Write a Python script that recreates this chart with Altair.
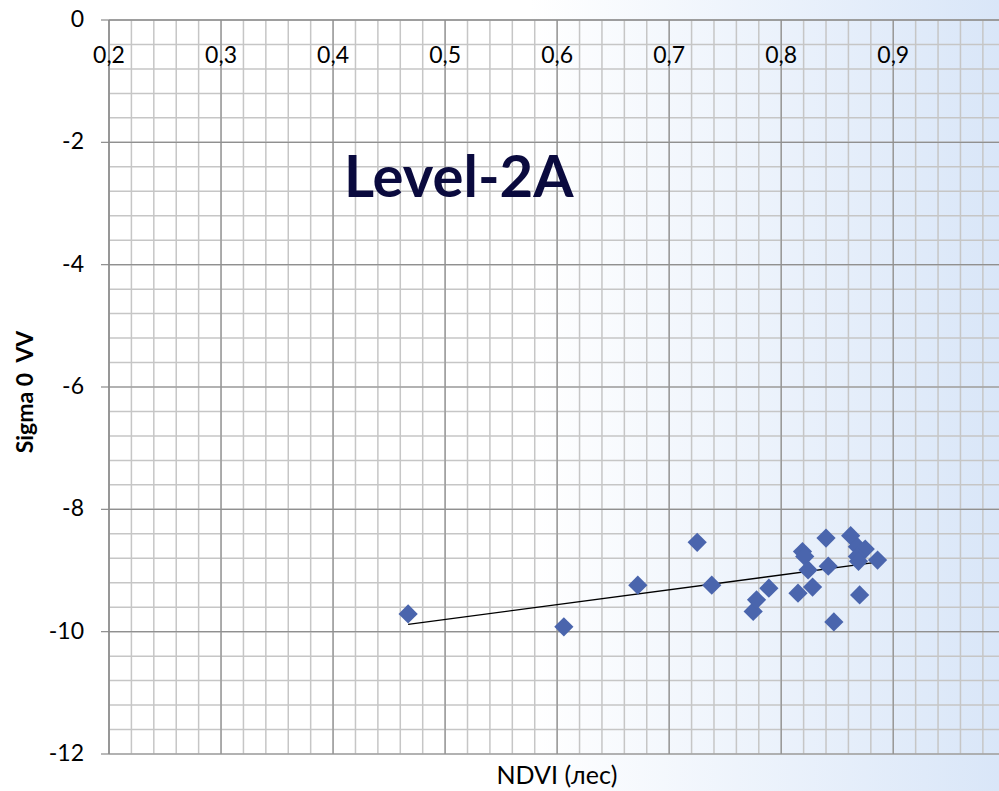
import altair as alt
import pandas as pd

# NDVI of forest plots vs. backscatter Sigma0 (VV), Level-2A
ndvi = [0.467, 0.606, 0.672, 0.725, 0.738, 0.775, 0.778, 0.789, 0.815, 0.828,
        0.819, 0.821, 0.824, 0.840, 0.842, 0.847, 0.862, 0.868, 0.875, 0.868,
        0.869, 0.870, 0.886]
sigma0_vv = [-9.71, -9.92, -9.24, -8.54, -9.24, -9.67, -9.48, -9.29, -9.37, -9.27,
             -8.69, -8.77, -8.99, -8.47, -8.93, -9.84, -8.43, -8.61, -8.65, -8.77,
             -8.85, -9.40, -8.83]

x_major = [0.2, 0.3, 0.4, 0.5, 0.6, 0.7, 0.8, 0.9]
x_labels = ["0,2", "0,3", "0,4", "0,5", "0,6", "0,7", "0,8", "0,9"]
y_major = [-12, -10, -8, -6, -4, -2, 0]
y_labels = ["-12", "-10", "-8", "-6", "-4", "-2", "0"]
x_minor = [round(0.2 + 0.02 * i, 2) for i in range(40)]
y_minor = [round(-12 + 0.4 * i, 1) for i in range(31)]

W, H = 890, 734
PAD_L, PAD_T, PAD_B = 109, 20, 37
FONT = "Lato"
AXIS_GRAY = "#8a8a8a"

points = pd.DataFrame({"ndvi": ndvi, "sigma": sigma0_vv})
xs = alt.Scale(domain=[0.2, 0.9944], nice=False, zero=False)
ys = alt.Scale(domain=[-12, 0], nice=False, zero=False)
one = pd.DataFrame({"k": [0]})

# page background: white on the left fading to pale blue on the right
backdrop = alt.Chart(one).mark_rect(
    color=alt.LinearGradient(
        gradient="linear", x1=0, y1=0, x2=1, y2=0,
        stops=[alt.GradientStop(offset=0, color="#ffffff"),
               alt.GradientStop(offset=0.53, color="#ffffff"),
               alt.GradientStop(offset=1, color="#d9e6f8")]
    )
).encode(x=alt.value(-PAD_L), x2=alt.value(W), y=alt.value(-PAD_T), y2=alt.value(H + PAD_B))


def vrules(vals, color, width):
    return alt.Chart(pd.DataFrame({"v": vals})).mark_rule(color=color, strokeWidth=width).encode(
        x=alt.X("v:Q", scale=xs, axis=None), y=alt.value(0), y2=alt.value(H))


def hrules(vals, color, width, x_from=0, x_to=W):
    return alt.Chart(pd.DataFrame({"v": vals})).mark_rule(color=color, strokeWidth=width).encode(
        y=alt.Y("v:Q", scale=ys, axis=None), x=alt.value(x_from), x2=alt.value(x_to))


grid = [
    vrules(x_minor, "#c6c6c6", 1.5),
    hrules(y_minor, "#c6c6c6", 1.5),
    vrules(x_major, "#909090", 1.2),
    hrules(y_major, "#909090", 1.2),
]

# axis lines and the short ticks on the value axis
y_domain = alt.Chart(one).mark_rule(color=AXIS_GRAY, strokeWidth=1.2).encode(
    x=alt.value(0), y=alt.value(0), y2=alt.value(H))
x_domain = alt.Chart(one).mark_rule(color=AXIS_GRAY, strokeWidth=1.2).encode(
    x=alt.value(0), x2=alt.value(W), y=alt.value(0))
y_ticks = hrules(y_major, AXIS_GRAY, 1.2, x_from=-8, x_to=0)

x_tick_text = alt.Chart(pd.DataFrame({"v": x_major, "lab": x_labels})).mark_text(
    font=FONT, fontSize=23, color="#000000", align="center", baseline="alphabetic"
).encode(x=alt.X("v:Q", scale=xs, axis=None), y=alt.value(43), text="lab:N")

y_tick_text = alt.Chart(pd.DataFrame({"v": y_major, "lab": y_labels})).mark_text(
    font=FONT, fontSize=23, color="#000000", align="right", baseline="middle"
).encode(y=alt.Y("v:Q", scale=ys, axis=None), x=alt.value(-25), text="lab:N")

x_title = alt.Chart(pd.DataFrame({"t": ["NDVI (лес)"]})).mark_text(
    font=FONT, fontSize=25, color="#000000", align="center", baseline="alphabetic"
).encode(text="t:N", x=alt.value(448), y=alt.value(764))

y_title = alt.Chart(pd.DataFrame({"t": ["Sigma 0\u00a0 VV"]})).mark_text(
    font=FONT, fontSize=23, fontWeight="bold", color="#000000",
    align="center", baseline="middle", angle=270,
).encode(text="t:N", x=alt.value(-83), y=alt.value(372))

base = alt.Chart(points)

trend = base.transform_regression("ndvi", "sigma").mark_line(
    color="#000000", strokeWidth=1.3
).encode(
    x=alt.X("ndvi:Q", scale=xs, axis=None),
    y=alt.Y("sigma:Q", scale=ys, axis=None),
)

dots = base.mark_point(shape="diamond", filled=True, size=370, color="#4a65ad", opacity=1).encode(
    x=alt.X("ndvi:Q", scale=xs, axis=None),
    y=alt.Y("sigma:Q", scale=ys, axis=None),
)

label = alt.Chart(pd.DataFrame({"t": ["Level-2A"]})).mark_text(
    font=FONT, fontSize=58, fontWeight="bold", color="#0a0a3e",
    align="left", baseline="alphabetic",
).encode(text="t:N", x=alt.value(235), y=alt.value(177))

chart = alt.layer(
    backdrop, *grid, y_domain, x_domain, y_ticks,
    trend, dots, label, x_tick_text, y_tick_text, x_title, y_title,
).properties(
    width=W, height=H, autosize="none",
    padding={"left": PAD_L, "top": PAD_T, "right": 0, "bottom": PAD_B},
).configure_view(stroke=None)

chart.save("out.html", embed_options={"renderer": "svg", "actions": False})
